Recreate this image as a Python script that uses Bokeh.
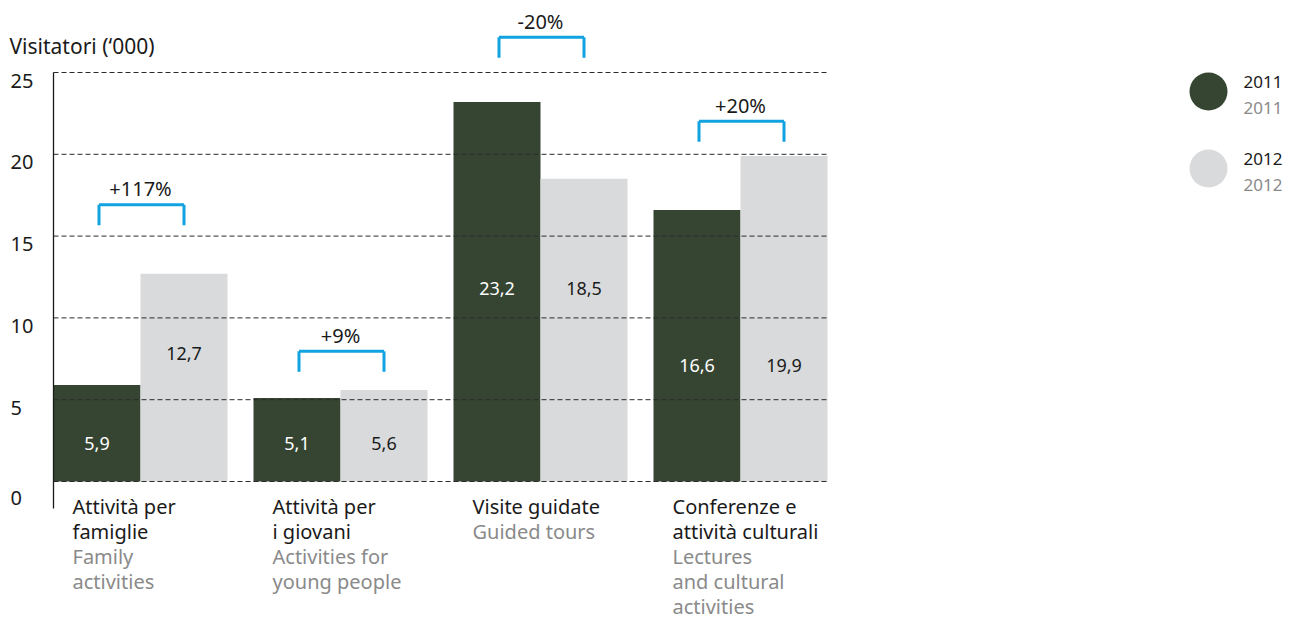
from bokeh.plotting import figure
from bokeh.models import Range1d, ColumnDataSource
from bokeh.core.properties import value
from bokeh.embed import file_html
from bokeh.resources import INLINE

# ---------------- data ----------------
categories_it = [["Attività per", "famiglie"], ["Attività per", "i giovani"],
                 ["Visite guidate"], ["Conferenze e", "attività culturali"]]
categories_en = [["Family", "activities"], ["Activities for", "young people"],
                 ["Guided tours"], ["Lectures", "and cultural", "activities"]]
values_2011 = [5.9, 5.1, 23.2, 16.6]
values_2012 = [12.7, 5.6, 18.5, 19.9]
labels_2011 = ["5,9", "5,1", "23,2", "16,6"]
labels_2012 = ["12,7", "5,6", "18,5", "19,9"]
changes = ["+117%", "+9%", "-20%", "+20%"]
y_ticks = [0, 5, 10, 15, 20, 25]
y_tick_labels = ["0", "5", "10", "15", "20", "25"]
series_names = ["2011", "2012"]

# ---------------- styling / layout ----------------
W, H = 1298, 620
ZERO_PX, TOP_PX = 481.0, 72.0           # pixel rows of 0 and 25
UNIT = (ZERO_PX - TOP_PX) / 25.0          # px per unit
GROUP_PX, FIRST_CENTER_PX = 200.0, 140.0  # px per group, center of first group
BAR_W = 87.0 / GROUP_PX

DARK = "#364532"
LIGHT = "#d9dadc"
BLUE = "#10a3e0"
BLACK = "#1a1a1a"
GREY = "#8a8a8a"
FONT = value("Noto Sans")

def px_x(px):
    return (px - FIRST_CENTER_PX) / GROUP_PX

def px_y(px):
    return (ZERO_PX - px) / UNIT

# annotation levels (values)
label_levels_2011 = [2.32, 2.32, 11.8, 7.09]
label_levels_2012 = [7.82, 2.32, 11.8, 7.09]
bracket_levels = [16.91, 7.96, 27.16, 22.02]
bracket_leg = 20.5 / UNIT

p = figure(width=W, height=H, output_backend="svg", toolbar_location=None,
           x_range=Range1d(px_x(0), px_x(W)), y_range=Range1d(px_y(H), px_y(0)),
           min_border=0, outline_line_color=None)
p.axis.visible = False
p.grid.visible = False
p.background_fill_color = "white"
p.border_fill_color = "white"

n = len(values_2011)
idx = list(range(n))
x_dark = [i - BAR_W / 2 for i in idx]
x_light = [i + BAR_W / 2 for i in idx]

# bars
p.vbar(x=x_dark, top=values_2011, bottom=0, width=BAR_W, fill_color=DARK, line_color=None)
p.vbar(x=x_light, top=values_2012, bottom=0, width=BAR_W, fill_color=LIGHT, line_color=None)

# dashed gridlines on top of bars
g_left = x_dark[0] - BAR_W / 2
g_right = x_light[-1] + BAR_W / 2
p.segment(x0=[g_left] * len(y_ticks), x1=[g_right] * len(y_ticks), y0=y_ticks, y1=y_ticks,
          line_color="#2b2b2b", line_width=1, line_dash="5 3")

# y axis line
p.segment(x0=[g_left], x1=[g_left], y0=[y_ticks[-1]], y1=[px_y(508)], line_color=BLACK, line_width=1.3)

# y tick labels
p.text(x=[px_x(10)] * len(y_ticks), y=y_ticks, text=y_tick_labels,
       y_offset=[16 if t == 0 else 8 for t in y_ticks],
       text_font=FONT, text_font_size=value("20px"), text_color=BLACK,
       text_align="left", text_baseline="middle")

# axis title
p.text(x=[px_x(9)], y=[px_y(45)], text=["Visitatori (\u2018000)"],
       text_font=FONT, text_font_size=value("21px"), text_color=BLACK,
       text_align="left", text_baseline="middle")

# value labels
p.text(x=x_dark, y=label_levels_2011, text=labels_2011, text_font=FONT,
       text_font_size=value("18px"), text_color="white", text_align="center", text_baseline="middle")
p.text(x=x_light, y=label_levels_2012, text=labels_2012, text_font=FONT,
       text_font_size=value("18px"), text_color=BLACK, text_align="center", text_baseline="middle")

# brackets
bx0 = [x_dark[i] + 0.01 for i in idx]
bx1 = [x_light[i] for i in idx]
p.segment(x0=bx0, x1=bx1, y0=bracket_levels, y1=bracket_levels, line_color=BLUE, line_width=3)
p.segment(x0=bx0, x1=bx0, y0=bracket_levels, y1=[b - bracket_leg for b in bracket_levels],
          line_color=BLUE, line_width=3)
p.segment(x0=bx1, x1=bx1, y0=bracket_levels, y1=[b - bracket_leg for b in bracket_levels],
          line_color=BLUE, line_width=3)
p.text(x=idx, y=bracket_levels, text=changes, y_offset=-16, text_font=FONT,
       text_font_size=value("20px"), text_color=BLACK, text_align="center", text_baseline="middle")

# category labels (Italian black, English grey)
LINE_H = 25.0
cx, cy, ct, cc, co = [], [], [], [], []
for i in idx:
    lines = [(t, BLACK) for t in categories_it[i]] + [(t, GREY) for t in categories_en[i]]
    for k, (t, c) in enumerate(lines):
        cx.append(g_left + i + 19.0 / GROUP_PX)
        cy.append(0)
        ct.append(t)
        cc.append(c)
        co.append(25 + LINE_H * k)
src = ColumnDataSource(dict(x=cx, y=cy, text=ct, color=cc, yo=co))
p.text(x="x", y="y", text="text", text_color="color", y_offset="yo", source=src,
       text_font=FONT, text_font_size=value("20px"), text_align="left", text_baseline="middle")

# legend
leg_x = px_x(1208)
leg_y = [px_y(91), px_y(168)]
p.scatter(x=[leg_x, leg_x], y=leg_y, size=38, fill_color=[DARK, LIGHT], line_color=None)
p.text(x=[px_x(1243)] * 2, y=leg_y, text=series_names, y_offset=-10, text_font=FONT,
       text_font_size=value("17px"), text_color=BLACK, text_align="left", text_baseline="middle")
p.text(x=[px_x(1243)] * 2, y=leg_y, text=series_names, y_offset=16, text_font=FONT,
       text_font_size=value("17px"), text_color=GREY, text_align="left", text_baseline="middle")

open("out.html", "w").write(file_html(p, INLINE))
